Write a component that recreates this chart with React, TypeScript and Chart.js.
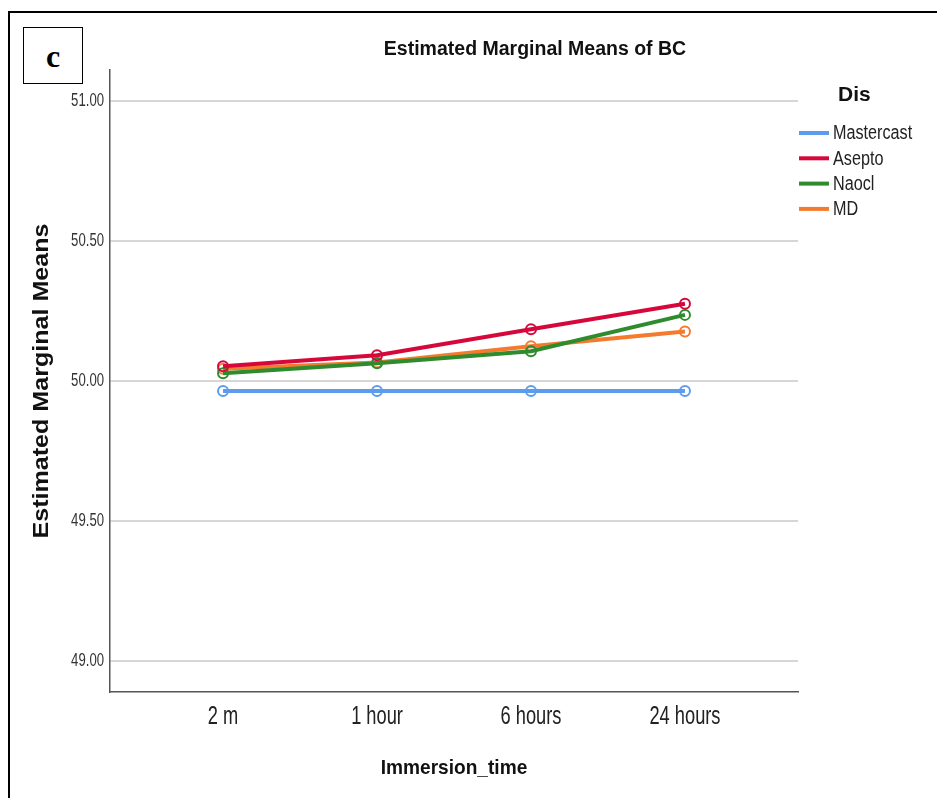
import React, { useEffect, useRef } from 'react';
import { Chart, registerables } from 'chart.js';
Chart.register(...registerables);

const categories = ['2 m', '1 hour', '6 hours', '24 hours'];
const seriesNames = ['Mastercast', 'Asepto', 'Naocl', 'MD'];
const mastercast = [49.964, 49.964, 49.964, 49.964];
const asepto = [50.053, 50.092, 50.185, 50.276];
const naocl = [50.028, 50.063, 50.106, 50.236];
const md = [50.044, 50.066, 50.124, 50.177];
const yTicks = [49.0, 49.5, 50.0, 50.5, 51.0];
const colors = ['#5d9cec', '#d6083b', '#2e8b2e', '#f47a2e'];
const chartTitle = 'Estimated Marginal Means of BC';
const yTitle = 'Estimated Marginal Means';
const xTitle = 'Immersion_time';
const legendTitle = 'Dis';

const SANS = '"Liberation Sans", Arial, sans-serif';

const seriesValues = [mastercast, asepto, naocl, md];

function drawText(ctx: any, text: string, x: number, y: number, font: string, sx: number, align: string, color: string) {
  ctx.save();
  ctx.translate(x, y);
  ctx.scale(sx, 1);
  ctx.font = font;
  ctx.textAlign = align;
  ctx.textBaseline = 'middle';
  ctx.fillStyle = color;
  ctx.fillText(text, 0, 0);
  ctx.restore();
}

const overlay = {
  id: 'overlay',
  afterDraw(chart: any) {
    const ctx = chart.ctx;
    const xs = chart.scales.x;
    const ys = chart.scales.y;
    ctx.save();
    // tick labels
    categories.forEach((c, i) => {
      drawText(ctx, c, xs.getPixelForValue(i), 717, `25px ${SANS}`, 0.73, 'center', '#222');
    });
    yTicks.forEach((v) => {
      drawText(ctx, v.toFixed(2), 104, ys.getPixelForValue(v), `18px ${SANS}`, 0.73, 'right', '#333');
    });
    // titles
    drawText(ctx, chartTitle, 535, 50, `bold 19.5px ${SANS}`, 1.0, 'center', '#111');
    drawText(ctx, xTitle, 454, 768, `bold 21px ${SANS}`, 0.91, 'center', '#111');
    ctx.save();
    ctx.translate(42, 381);
    ctx.rotate(-Math.PI / 2);
    drawText(ctx, yTitle, 0, 0, `bold 22px ${SANS}`, 1.14, 'center', '#111');
    ctx.restore();
    // legend
    drawText(ctx, legendTitle, 838, 95, `bold 21px ${SANS}`, 1.0, 'left', '#111');
    chart.data.datasets.forEach((ds: any, i: number) => {
      const y = 133 + i * 25.3;
      ctx.strokeStyle = ds.borderColor;
      ctx.lineWidth = 4;
      ctx.beginPath();
      ctx.moveTo(799, y);
      ctx.lineTo(829, y);
      ctx.stroke();
      drawText(ctx, ds.label, 833, y + 1, `19.5px ${SANS}`, 0.83, 'left', '#222');
    });
    ctx.restore();
  },
};

export default function App() {
  const ref = useRef<HTMLCanvasElement>(null);
  useEffect(() => {
    if (!ref.current) return;
    const chart = new Chart(ref.current, {
      type: 'line',
      data: {
        datasets: seriesNames.map((name, i) => ({
          label: name,
          data: seriesValues[i].map((v, j) => ({ x: j, y: v })),
          borderColor: colors[i],
          backgroundColor: colors[i],
          borderWidth: 4,
          pointRadius: 5,
          pointBorderWidth: 2,
          pointBackgroundColor: 'rgba(0,0,0,0)',
          pointBorderColor: colors[i],
          tension: 0,
          fill: false,
        })),
      },
      options: {
        responsive: false,
        animation: false,
        layout: { padding: { top: 70, right: 139, left: 0, bottom: 0 } },
        plugins: { legend: { display: false }, title: { display: false }, tooltip: { enabled: false } },
        scales: {
          x: {
            type: 'linear',
            min: -0.734,
            max: 3.734,
            afterBuildTicks: (s: any) => {
              s.ticks = categories.map((_, i) => ({ value: i }));
            },
            ticks: { display: false },
            grid: { display: false, drawTicks: false },
            border: { display: true, color: '#555', width: 1.5 },
            afterFit: (s: any) => {
              s.height = 106;
            },
          },
          y: {
            type: 'linear',
            min: 48.89,
            max: 51.11,
            afterBuildTicks: (s: any) => {
              s.ticks = yTicks.map((v) => ({ value: v }));
            },
            ticks: { display: false },
            grid: { color: '#d6d6d6', lineWidth: 2, drawTicks: false },
            border: { color: '#555', width: 1.5 },
            afterFit: (s: any) => {
              s.width = 110;
            },
          },
        },
      },
      plugins: [overlay],
    });
    return () => chart.destroy();
  }, []);

  return (
    <div style={{ position: 'absolute', left: 0, top: 0, width: 937, height: 798, overflow: 'hidden', background: '#fff' }}>
      <div
        style={{
          position: 'absolute',
          left: 8,
          top: 11,
          width: 1000,
          height: 900,
          borderTop: '2px solid #000',
          borderLeft: '2px solid #000',
        }}
      />
      <canvas ref={ref} width={937} height={798} style={{ position: 'absolute', left: 0, top: 0, display: 'block' }} />
      <div
        style={{
          position: 'absolute',
          left: 23,
          top: 27,
          width: 58,
          height: 55,
          border: '1.5px solid #000',
          display: 'flex',
          alignItems: 'center',
          justifyContent: 'center',
          fontFamily: '"Liberation Serif", "Times New Roman", serif',
          fontWeight: 'bold',
          fontSize: 32,
          lineHeight: 1,
          background: '#fff',
        }}
      >
        c
      </div>
    </div>
  );
}
